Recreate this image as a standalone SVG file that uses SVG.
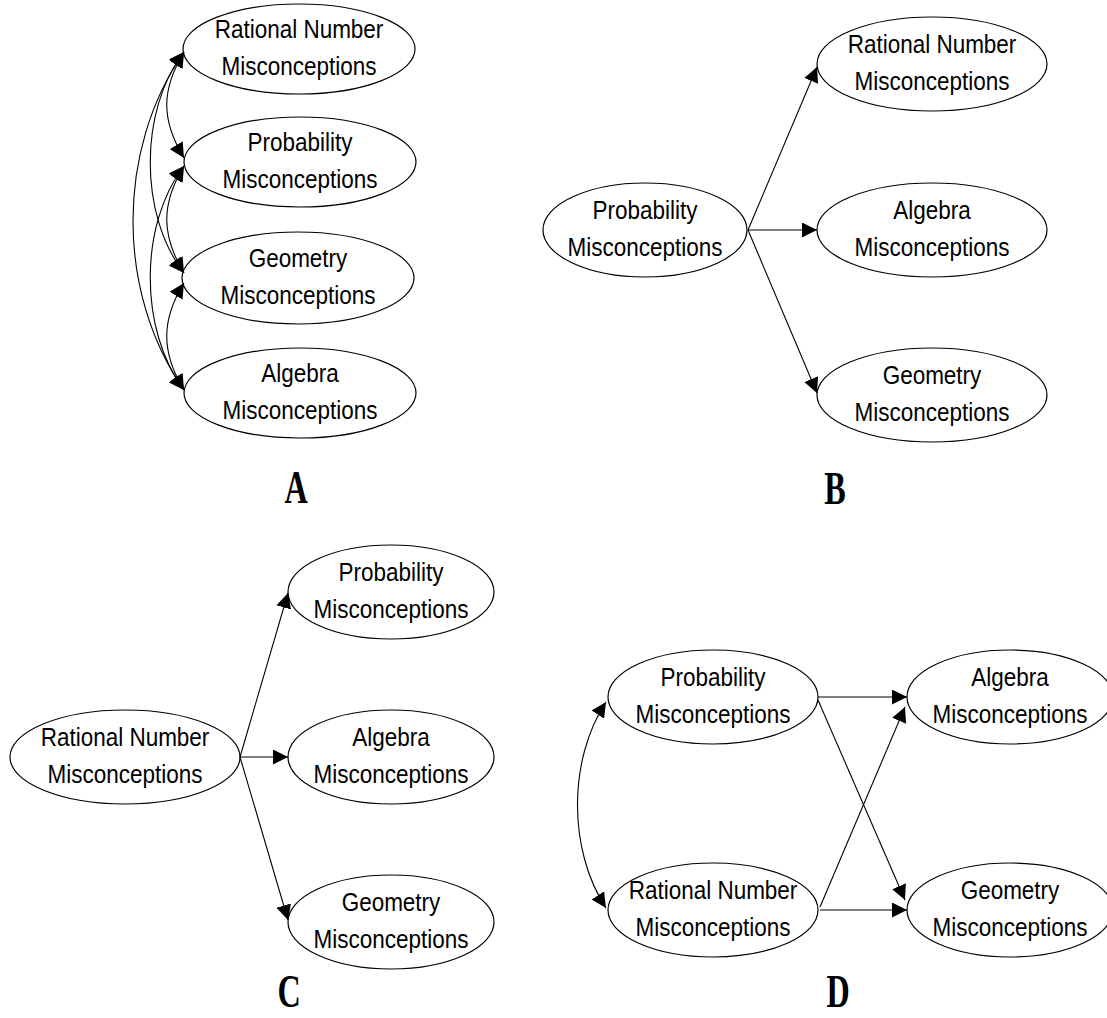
<svg xmlns="http://www.w3.org/2000/svg" width="1107" height="1018" viewBox="0 0 1107 1018">
<style>
.n ellipse{fill:#fff;stroke:#000;stroke-width:1.2}
.n text{font-family:"Liberation Sans",Arial,sans-serif;font-size:25px;fill:#000;text-anchor:middle}
.c path,.c line{fill:none;stroke:#000;stroke-width:1.1}
.arr{marker-end:url(#ah)}
.bi{marker-start:url(#ah);marker-end:url(#ah)}
.lbl{font-family:"Liberation Serif","Times New Roman",serif;font-weight:bold;font-size:46px;text-anchor:middle;fill:#000}
</style>
<defs>
<marker id="ah" markerUnits="userSpaceOnUse" viewBox="0 0 15 15" refX="15" refY="7.5" markerWidth="15" markerHeight="15" orient="auto-start-reverse">
<path d="M0,0 L15,7.5 L0,15 z" fill="#000"/>
</marker>
</defs>
<rect width="1107" height="1018" fill="#fff"/>

<!-- Panel A nodes -->
<g id="a-rn" class="n"><ellipse cx="299" cy="49" rx="116" ry="45"/><text transform="translate(299 0) scale(0.9 1)"><tspan x="0" y="38">Rational Number</tspan><tspan x="0" y="75">Misconceptions</tspan></text></g>
<g id="a-prob" class="n"><ellipse cx="300" cy="162" rx="116" ry="45"/><text transform="translate(300 0) scale(0.9 1)"><tspan x="0" y="151">Probability</tspan><tspan x="0" y="188">Misconceptions</tspan></text></g>
<g id="a-geom" class="n"><ellipse cx="298" cy="278" rx="116" ry="46"/><text transform="translate(298 0) scale(0.9 1)"><tspan x="0" y="267">Geometry</tspan><tspan x="0" y="304">Misconceptions</tspan></text></g>
<g id="a-alg" class="n"><ellipse cx="300" cy="393" rx="116" ry="45"/><text transform="translate(300 0) scale(0.9 1)"><tspan x="0" y="382">Algebra</tspan><tspan x="0" y="419">Misconceptions</tspan></text></g>

<!-- Panel B nodes -->
<g id="b-prob" class="n"><ellipse cx="645" cy="230" rx="102" ry="47"/><text transform="translate(645 0) scale(0.9 1)"><tspan x="0" y="219">Probability</tspan><tspan x="0" y="256">Misconceptions</tspan></text></g>
<g id="b-rn" class="n"><ellipse cx="932" cy="64" rx="115" ry="47"/><text transform="translate(932 0) scale(0.9 1)"><tspan x="0" y="53">Rational Number</tspan><tspan x="0" y="90">Misconceptions</tspan></text></g>
<g id="b-alg" class="n"><ellipse cx="932" cy="230" rx="115" ry="47"/><text transform="translate(932 0) scale(0.9 1)"><tspan x="0" y="219">Algebra</tspan><tspan x="0" y="256">Misconceptions</tspan></text></g>
<g id="b-geom" class="n"><ellipse cx="932" cy="395" rx="115" ry="47"/><text transform="translate(932 0) scale(0.9 1)"><tspan x="0" y="384">Geometry</tspan><tspan x="0" y="421">Misconceptions</tspan></text></g>

<!-- Panel C nodes -->
<g id="c-rn" class="n"><ellipse cx="125" cy="757" rx="115" ry="47"/><text transform="translate(125 0) scale(0.9 1)"><tspan x="0" y="746">Rational Number</tspan><tspan x="0" y="783">Misconceptions</tspan></text></g>
<g id="c-prob" class="n"><ellipse cx="391" cy="592" rx="103" ry="47"/><text transform="translate(391 0) scale(0.9 1)"><tspan x="0" y="581">Probability</tspan><tspan x="0" y="618">Misconceptions</tspan></text></g>
<g id="c-alg" class="n"><ellipse cx="391" cy="757" rx="103" ry="47"/><text transform="translate(391 0) scale(0.9 1)"><tspan x="0" y="746">Algebra</tspan><tspan x="0" y="783">Misconceptions</tspan></text></g>
<g id="c-geom" class="n"><ellipse cx="391" cy="922" rx="103" ry="47"/><text transform="translate(391 0) scale(0.9 1)"><tspan x="0" y="911">Geometry</tspan><tspan x="0" y="948">Misconceptions</tspan></text></g>

<!-- Panel D nodes -->
<g id="d-prob" class="n"><ellipse cx="713" cy="697" rx="105" ry="47"/><text transform="translate(713 0) scale(0.9 1)"><tspan x="0" y="686">Probability</tspan><tspan x="0" y="723">Misconceptions</tspan></text></g>
<g id="d-rn" class="n"><ellipse cx="713" cy="910" rx="105" ry="47"/><text transform="translate(713 0) scale(0.9 1)"><tspan x="0" y="899">Rational Number</tspan><tspan x="0" y="936">Misconceptions</tspan></text></g>
<g id="d-alg" class="n"><ellipse cx="1010" cy="697" rx="103" ry="47"/><text transform="translate(1010 0) scale(0.9 1)"><tspan x="0" y="686">Algebra</tspan><tspan x="0" y="723">Misconceptions</tspan></text></g>
<g id="d-geom" class="n"><ellipse cx="1010" cy="910" rx="103" ry="47"/><text transform="translate(1010 0) scale(0.9 1)"><tspan x="0" y="899">Geometry</tspan><tspan x="0" y="936">Misconceptions</tspan></text></g>

<!-- Connectors -->
<g id="connectors" class="c">
<path class="bi" d="M184,52 C161,90 161,120 184,158"/>
<path class="bi" d="M184,166 C161,204 161,235 184,273"/>
<path class="bi" d="M184,283 C161,320 161,352 184,390"/>
<path class="bi" d="M184,52 C139,110 139,215 184,273"/>
<path class="bi" d="M184,166 C139,225 139,330 184,390"/>
<path class="bi" d="M184,52 C116,150 116,292 184,390"/>

<line class="arr" x1="748" y1="230" x2="817" y2="67"/>
<line class="arr" x1="748" y1="230" x2="817" y2="230"/>
<line class="arr" x1="748" y1="230" x2="817" y2="393"/>

<line class="arr" x1="240" y1="757" x2="288" y2="593"/>
<line class="arr" x1="240" y1="757" x2="288" y2="757"/>
<line class="arr" x1="240" y1="757" x2="288" y2="920"/>

<path class="bi" d="M606,702 C568,760 568,850 606,908"/>
<line class="arr" x1="818" y1="697" x2="907" y2="697"/>
<line class="arr" x1="818" y1="700" x2="905" y2="900"/>
<line class="arr" x1="820" y1="907" x2="905" y2="707"/>
<line class="arr" x1="820" y1="910" x2="907" y2="910"/>
</g>

<!-- Panel labels -->
<text class="lbl" transform="translate(296 503) scale(0.7 1)" x="0" y="0">A</text>
<text class="lbl" transform="translate(835 504) scale(0.7 1)" x="0" y="0">B</text>
<text class="lbl" transform="translate(289 1007) scale(0.7 1)" x="0" y="0">C</text>
<text class="lbl" transform="translate(838 1007) scale(0.7 1)" x="0" y="0">D</text>
</svg>
